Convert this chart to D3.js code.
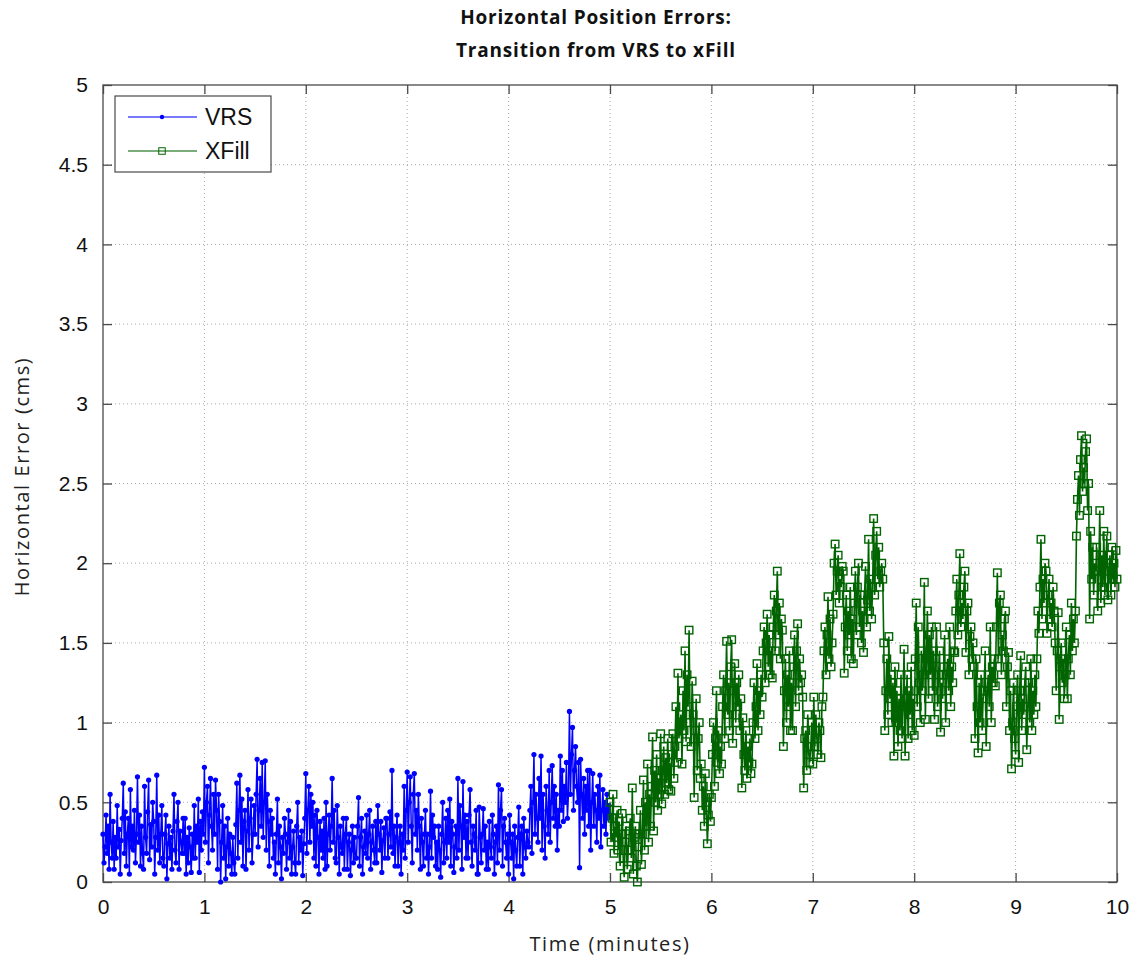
<!DOCTYPE html>
<html>
<head>
<meta charset="utf-8">
<script src="https://cdn.jsdelivr.net/npm/d3@7"></script>
<style>
  body { margin: 0; background: #fff; }
  svg { display: block; }
</style>
</head>
<body>
<div id="main"></div>
<script>
// Tick labels
var xTicks = [0, 1, 2, 3, 4, 5, 6, 7, 8, 9, 10];
var yTicks = [0, 0.5, 1, 1.5, 2, 2.5, 3, 3.5, 4, 4.5, 5];

// Series: samples every 0.01 minutes, one row = 0.1 min
var sampleStep = 0.01;
var vrsStart = 0;
var vrsValues = [
  0.30, 0.12, 0.22, 0.42, 0.18, 0.35, 0.08, 0.55, 0.25, 0.15,
  0.38, 0.08, 0.28, 0.15, 0.48, 0.22, 0.33, 0.05, 0.26, 0.40,
  0.62, 0.18, 0.44, 0.10, 0.30, 0.40, 0.05, 0.58, 0.22, 0.35,
  0.20, 0.45, 0.12, 0.30, 0.66, 0.25, 0.42, 0.10, 0.35, 0.18,
  0.08, 0.60, 0.28, 0.18, 0.44, 0.64, 0.14, 0.36, 0.22, 0.50,
  0.38, 0.05, 0.28, 0.67, 0.20, 0.42, 0.12, 0.30, 0.48, 0.15,
  0.10, 0.30, 0.42, 0.02, 0.24, 0.35, 0.15, 0.28, 0.08, 0.32,
  0.55, 0.20, 0.12, 0.38, 0.50, 0.08, 0.32, 0.25, 0.18, 0.40,
  0.18, 0.40, 0.05, 0.28, 0.12, 0.34, 0.22, 0.06, 0.30, 0.15,
  0.48, 0.15, 0.35, 0.25, 0.52, 0.06, 0.38, 0.20, 0.44, 0.30,
  0.72, 0.25, 0.50, 0.60, 0.12, 0.42, 0.65, 0.35, 0.20, 0.55,
  0.30, 0.64, 0.45, 0.08, 0.55, 0.38, 0.00, 0.25, 0.48, 0.15,
  0.35, 0.02, 0.22, 0.40, 0.10, 0.30, 0.18, 0.05, 0.28, 0.12,
  0.05, 0.36, 0.62, 0.15, 0.45, 0.67, 0.25, 0.52, 0.10, 0.38,
  0.45, 0.08, 0.32, 0.58, 0.20, 0.40, 0.52, 0.12, 0.30, 0.48,
  0.30, 0.55, 0.77, 0.22, 0.45, 0.65, 0.35, 0.75, 0.28, 0.50,
  0.76, 0.20, 0.55, 0.38, 0.10, 0.45, 0.30, 0.40, 0.15, 0.25,
  0.05, 0.30, 0.52, 0.12, 0.35, 0.22, 0.02, 0.28, 0.18, 0.40,
  0.30, 0.08, 0.25, 0.45, 0.15, 0.38, 0.05, 0.22, 0.32, 0.12,
  0.05, 0.35, 0.50, 0.12, 0.28, 0.20, 0.32, 0.04, 0.24, 0.40,
  0.68, 0.18, 0.45, 0.60, 0.25, 0.55, 0.35, 0.50, 0.15, 0.42,
  0.10, 0.45, 0.28, 0.05, 0.38, 0.20, 0.32, 0.15, 0.40, 0.08,
  0.50, 0.10, 0.30, 0.42, 0.20, 0.35, 0.65, 0.25, 0.45, 0.15,
  0.12, 0.48, 0.28, 0.05, 0.35, 0.22, 0.18, 0.40, 0.08, 0.30,
  0.40, 0.08, 0.25, 0.30, 0.04, 0.20, 0.35, 0.12, 0.28, 0.15,
  0.15, 0.35, 0.53, 0.10, 0.28, 0.40, 0.05, 0.22, 0.32, 0.18,
  0.42, 0.15, 0.30, 0.45, 0.08, 0.25, 0.35, 0.20, 0.12, 0.38,
  0.12, 0.48, 0.30, 0.20, 0.38, 0.06, 0.26, 0.34, 0.15, 0.40,
  0.40, 0.15, 0.30, 0.44, 0.22, 0.70, 0.18, 0.35, 0.10, 0.28,
  0.42, 0.10, 0.25, 0.35, 0.05, 0.30, 0.20, 0.60, 0.15, 0.45,
  0.69, 0.25, 0.50, 0.66, 0.35, 0.12, 0.55, 0.68, 0.30, 0.45,
  0.20, 0.55, 0.35, 0.08, 0.40, 0.25, 0.10, 0.30, 0.45, 0.15,
  0.30, 0.05, 0.22, 0.57, 0.15, 0.42, 0.28, 0.35, 0.10, 0.25,
  0.08, 0.35, 0.20, 0.03, 0.30, 0.50, 0.12, 0.25, 0.40, 0.15,
  0.45, 0.25, 0.52, 0.10, 0.38, 0.30, 0.06, 0.22, 0.35, 0.15,
  0.65, 0.20, 0.48, 0.35, 0.08, 0.63, 0.28, 0.42, 0.15, 0.38,
  0.15, 0.42, 0.58, 0.25, 0.10, 0.35, 0.30, 0.20, 0.45, 0.05,
  0.05, 0.47, 0.28, 0.12, 0.30, 0.46, 0.20, 0.35, 0.08, 0.25,
  0.08, 0.38, 0.22, 0.15, 0.42, 0.30, 0.05, 0.25, 0.35, 0.12,
  0.61, 0.20, 0.45, 0.58, 0.10, 0.35, 0.40, 0.25, 0.15, 0.30,
  0.05, 0.42, 0.25, 0.15, 0.30, 0.02, 0.35, 0.20, 0.10, 0.28,
  0.47, 0.10, 0.30, 0.35, 0.05, 0.40, 0.22, 0.15, 0.32, 0.25,
  0.22, 0.45, 0.60, 0.18, 0.50, 0.80, 0.30, 0.55, 0.40, 0.25,
  0.65, 0.40, 0.79, 0.20, 0.55, 0.35, 0.15, 0.60, 0.45, 0.30,
  0.70, 0.25, 0.50, 0.73, 0.40, 0.60, 0.35, 0.55, 0.20, 0.45,
  0.35, 0.79, 0.45, 0.70, 0.38, 0.60, 0.50, 0.75, 0.40, 0.55,
  1.07, 0.55, 0.80, 0.97, 0.45, 0.70, 0.85, 0.60, 0.50, 0.75,
  0.09, 0.77, 0.55, 0.40, 0.65, 0.30, 0.60, 0.45, 0.70, 0.35,
  0.70, 0.20, 0.50, 0.68, 0.35, 0.55, 0.45, 0.25, 0.60, 0.40,
  0.67, 0.22, 0.45, 0.58, 0.35, 0.50, 0.30, 0.55, 0.40, 0.48,
  0.42
];
var xfillStart = 5;
var xfillValues = [
  0.50, 0.25, 0.40, 0.55, 0.18, 0.35, 0.28, 0.45, 0.20, 0.38,
  0.10, 0.30, 0.43, 0.15, 0.03, 0.25, 0.35, 0.08, 0.20, 0.32,
  0.40, 0.15, 0.59, 0.05, 0.28, 0.35, 0.10, 0.00, 0.22, 0.30,
  0.45, 0.11, 0.30, 0.64, 0.20, 0.50, 0.35, 0.74, 0.25, 0.55,
  0.35, 0.60, 0.91, 0.32, 0.70, 0.50, 0.80, 0.45, 0.65, 0.55,
  0.93, 0.49, 0.70, 0.85, 0.55, 0.78, 0.62, 0.90, 0.58, 0.75,
  0.57, 0.80, 0.93, 0.65, 0.85, 1.10, 0.75, 1.31, 0.90, 1.00,
  1.05, 0.74, 1.20, 0.95, 1.45, 0.88, 1.30, 1.10, 1.58, 1.00,
  0.85, 1.26, 1.05, 0.53, 0.95, 1.15, 0.70, 0.90, 1.00, 0.65,
  0.74, 0.45, 0.60, 0.35, 0.68, 0.50, 0.24, 0.42, 0.55, 0.38,
  0.53, 0.80, 1.00, 0.60, 0.90, 1.20, 0.75, 0.95, 0.68, 0.85,
  0.74, 1.10, 1.30, 0.90, 1.20, 1.51, 1.05, 1.25, 0.95, 1.35,
  1.52, 0.87, 1.20, 1.37, 1.00, 1.25, 1.10, 1.30, 0.95, 1.15,
  0.59, 1.03, 0.80, 0.70, 0.95, 0.65, 0.85, 0.75, 0.90, 0.68,
  0.74, 1.00, 1.25, 0.90, 1.10, 1.37, 0.95, 1.20, 1.05, 1.30,
  1.16, 1.45, 1.60, 1.25, 1.50, 1.68, 1.35, 1.55, 1.30, 1.45,
  1.28, 1.60, 1.80, 1.45, 1.70, 1.95, 1.55, 1.75, 1.40, 1.65,
  1.58, 0.85, 1.20, 1.40, 1.00, 1.30, 1.10, 1.45, 0.95, 1.25,
  0.95, 1.35, 1.55, 1.10, 1.45, 1.62, 1.20, 1.40, 1.25, 1.30,
  1.16, 0.59, 0.90, 0.95, 0.70, 1.05, 0.80, 0.75, 0.85, 1.00,
  0.74, 1.16, 0.85, 1.05, 0.90, 0.80, 1.00, 0.95, 0.78, 1.10,
  1.16, 1.45, 1.60, 1.30, 1.55, 1.79, 1.40, 1.65, 1.35, 1.50,
  1.68, 2.00, 2.12, 1.80, 1.95, 2.05, 1.75, 1.90, 1.85, 1.98,
  1.95, 1.31, 1.60, 1.80, 1.45, 1.70, 1.55, 1.85, 1.40, 1.65,
  1.37, 1.75, 1.95, 1.55, 1.85, 2.00, 1.60, 1.80, 1.50, 1.70,
  1.44, 1.80, 1.98, 1.60, 1.77, 2.15, 1.70, 1.90, 1.65, 1.85,
  2.28, 1.80, 2.05, 2.20, 1.90, 2.10, 1.85, 1.95, 2.00, 1.90,
  1.50, 0.95, 1.20, 1.40, 1.05, 1.54, 1.15, 1.30, 1.00, 1.25,
  0.79, 1.35, 1.00, 1.20, 0.85, 1.15, 0.95, 1.30, 0.90, 1.10,
  1.46, 0.79, 1.10, 1.30, 0.90, 1.20, 1.05, 1.35, 0.95, 1.15,
  0.92, 1.40, 1.75, 1.10, 1.60, 1.25, 1.00, 1.45, 1.20, 1.30,
  1.88, 1.02, 1.40, 1.70, 1.15, 1.55, 1.30, 1.60, 1.20, 1.45,
  1.02, 1.40, 1.60, 1.10, 1.30, 1.45, 0.94, 1.25, 1.15, 1.35,
  1.55, 1.00, 1.30, 1.40, 1.20, 1.60, 1.10, 1.35, 1.25, 1.45,
  1.44, 1.70, 1.90, 1.55, 1.80, 2.06, 1.60, 1.75, 1.65, 1.85,
  1.95, 1.44, 1.70, 1.75, 1.30, 1.54, 1.60, 1.40, 1.50, 1.35,
  0.90, 1.40, 1.10, 0.81, 1.25, 1.00, 1.30, 0.95, 1.15, 1.20,
  1.45, 0.85, 1.20, 1.30, 1.10, 1.60, 1.00, 1.35, 1.25, 1.40,
  1.23, 1.60, 1.94, 1.40, 1.75, 1.80, 1.30, 1.55, 1.45, 1.65,
  1.70, 1.10, 1.35, 1.44, 0.95, 1.20, 0.71, 1.00, 1.25, 0.90,
  0.80, 1.10, 1.30, 0.75, 1.20, 1.42, 0.95, 1.15, 1.05, 1.25,
  1.35, 0.83, 1.10, 1.25, 1.00, 1.40, 0.95, 1.20, 1.05, 1.30,
  1.10, 1.40, 1.70, 1.56, 1.85, 2.15, 1.65, 1.90, 1.75, 2.00,
  1.95, 1.56, 1.80, 1.90, 1.65, 1.75, 1.60, 1.85, 1.70, 1.50,
  1.20, 1.45, 1.69, 1.02, 1.35, 1.50, 1.25, 1.40, 1.15, 1.30,
  1.60, 1.15, 1.40, 1.55, 1.30, 1.75, 1.45, 1.65, 1.50, 1.70,
  2.17, 2.40, 2.55, 2.30, 2.65, 2.80, 2.45, 2.60, 2.50, 2.70,
  2.78, 2.33, 2.50, 1.65, 2.20, 1.90, 2.10, 1.80, 2.00, 1.95,
  2.10, 1.70, 1.95, 2.33, 1.75, 2.05, 1.85, 2.20, 1.80, 2.00,
  2.17, 1.77, 1.95, 2.05, 1.80, 2.10, 1.90, 2.00, 1.85, 2.08,
  1.90
];

var vrsColor = "#0000ff";
var xfillColor = "#006400";

function toPoints(start, values) {
    return values.map(function (v, i) { return { t: start + i * sampleStep, v: v }; });
}
var vrsData = toPoints(vrsStart, vrsValues);
var xfillData = toPoints(xfillStart, xfillValues);

var W = 1137, H = 963;
var margin = { top: 85, right: 20, bottom: 81, left: 103 };
var width = W - margin.left - margin.right,   // 1014
    height = H - margin.top - margin.bottom;  // 797

var svg = d3.select("#main").append("svg")
    .attr("width", W)
    .attr("height", H);

var xScale = d3.scaleLinear().domain([0, 10]).range([0, width]);
var yScale = d3.scaleLinear().domain([0, 5]).range([height, 0]);

var g = svg.append("g")
    .attr("transform", "translate(" + margin.left + "," + margin.top + ")");

// grid
g.append("g").selectAll("line")
    .data(xTicks.slice(1, -1))
    .enter().append("line")
    .attr("x1", d => xScale(d)).attr("x2", d => xScale(d))
    .attr("y1", 0).attr("y2", height)
    .attr("stroke", "#a8a8a8")
    .attr("stroke-dasharray", "1,3");
g.append("g").selectAll("line")
    .data(yTicks.slice(1, -1))
    .enter().append("line")
    .attr("y1", d => yScale(d)).attr("y2", d => yScale(d))
    .attr("x1", 0).attr("x2", width)
    .attr("stroke", "#a8a8a8")
    .attr("stroke-dasharray", "1,3");

// axes with inside ticks, on all four sides
var tickLen = 9;
var xAxis = d3.axisBottom(xScale).tickValues(xTicks).tickSizeInner(-tickLen).tickSizeOuter(0).tickPadding(tickLen + 8);
var yAxis = d3.axisLeft(yScale).tickValues(yTicks).tickSizeInner(-tickLen).tickSizeOuter(0).tickPadding(tickLen + 6)
    .tickFormat(d3.format("~g"));

g.append("g").attr("transform", "translate(0," + height + ")").call(xAxis);
g.append("g").call(yAxis);
g.append("g").call(d3.axisTop(xScale).tickValues(xTicks).tickSizeInner(-tickLen).tickSizeOuter(0).tickFormat(""));
g.append("g").attr("transform", "translate(" + width + ",0)")
    .call(d3.axisRight(yScale).tickValues(yTicks).tickSizeInner(-tickLen).tickSizeOuter(0).tickFormat(""));

g.selectAll(".domain").remove();
g.selectAll(".tick line").attr("stroke", "#4a4a4a").attr("stroke-width", 1.3);
g.selectAll(".tick text")
    .attr("font-family", "'Liberation Sans', Arial, sans-serif")
    .attr("font-size", 21)
    .attr("fill", "#111");

g.append("rect")
    .attr("width", width).attr("height", height)
    .attr("fill", "none")
    .attr("stroke", "#4a4a4a")
    .attr("stroke-width", 1.3);

// series
var line = d3.line().x(d => xScale(d.t)).y(d => yScale(d.v));

g.append("path").datum(vrsData)
    .attr("d", line)
    .attr("fill", "none")
    .attr("stroke", vrsColor)
    .attr("stroke-width", 1.5);
g.append("g").selectAll("circle")
    .data(vrsData)
    .enter().append("circle")
    .attr("cx", d => xScale(d.t))
    .attr("cy", d => yScale(d.v))
    .attr("r", 2.6)
    .attr("fill", vrsColor);

var sq = 7.5;
g.append("path").datum(xfillData)
    .attr("d", line)
    .attr("fill", "none")
    .attr("stroke", xfillColor)
    .attr("stroke-width", 1.6);
g.append("g").selectAll("rect")
    .data(xfillData)
    .enter().append("rect")
    .attr("x", d => xScale(d.t) - sq / 2)
    .attr("y", d => yScale(d.v) - sq / 2)
    .attr("width", sq).attr("height", sq)
    .attr("fill", "none")
    .attr("stroke", xfillColor)
    .attr("stroke-width", 1.4);

// legend
var legend = g.append("g").attr("transform", "translate(12,11)");
legend.append("rect")
    .attr("width", 156).attr("height", 76)
    .attr("fill", "#fff")
    .attr("stroke", "#4a4a4a")
    .attr("stroke-width", 1.2);
var legendItems = [
    { name: "VRS", color: vrsColor, marker: "dot" },
    { name: "XFill", color: xfillColor, marker: "square" }
];
legendItems.forEach(function (item, i) {
    var y = 21 + i * 34;
    legend.append("line")
        .attr("x1", 13).attr("x2", 82)
        .attr("y1", y).attr("y2", y)
        .attr("stroke", item.color)
        .attr("stroke-opacity", 0.7)
        .attr("stroke-width", 1.3);
    if (item.marker === "dot") {
        legend.append("circle").attr("cx", 47).attr("cy", y).attr("r", 2.2).attr("fill", item.color);
    } else {
        legend.append("rect").attr("x", 47 - 3.25).attr("y", y - 3.25)
            .attr("width", 6.5).attr("height", 6.5)
            .attr("fill", "none").attr("stroke", item.color).attr("stroke-width", 1);
    }
    legend.append("text")
        .attr("x", 90).attr("y", y)
        .attr("dy", "0.35em")
        .attr("font-family", "'Liberation Sans', Arial, sans-serif")
        .attr("font-size", 23)
        .attr("fill", "#111")
        .text(item.name);
});

// title and axis labels
var titleFont = "'Open Sans', 'Noto Sans', sans-serif";
var title = svg.append("text")
    .attr("x", 596).attr("y", 24)
    .attr("text-anchor", "middle")
    .attr("font-family", titleFont)
    .attr("font-weight", "bold")
    .attr("font-size", 19)
    .attr("letter-spacing", 0.8)
    .attr("fill", "#111");
title.append("tspan").attr("x", 596).text("Horizontal Position Errors:");
title.append("tspan").attr("x", 596).attr("dy", 33).text("Transition from VRS to xFill");

svg.append("text")
    .attr("x", margin.left + width / 2).attr("y", 951)
    .attr("text-anchor", "middle")
    .attr("font-family", titleFont)
    .attr("font-size", 20)
    .attr("letter-spacing", 1.6)
    .attr("fill", "#222")
    .text("Time (minutes)");

svg.append("text")
    .attr("transform", "translate(29," + (margin.top + height / 2 - 7) + ") rotate(-90)")
    .attr("text-anchor", "middle")
    .attr("font-family", titleFont)
    .attr("font-size", 20)
    .attr("letter-spacing", 1.6)
    .attr("fill", "#222")
    .text("Horizontal Error (cms)");
</script>
</body>
</html>
